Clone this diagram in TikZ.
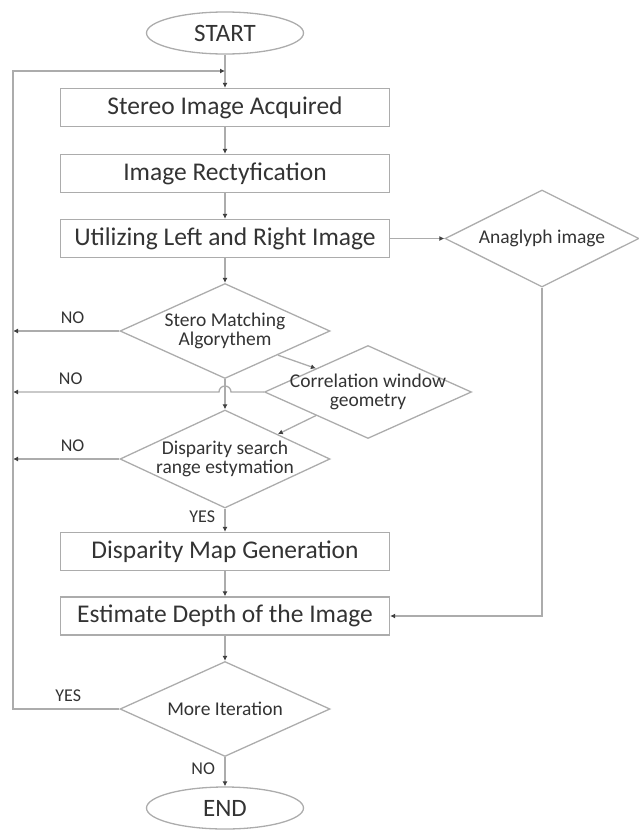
\documentclass[tikz,border=0pt]{standalone}
\usepackage{fontspec}
\setmainfont{Carlito}
\usetikzlibrary{shapes.geometric,arrows.meta}

\begin{document}
\begin{tikzpicture}[x=1pt, y=-1pt, line width=1.3pt,
    terminal/.style={draw=gray!65, ellipse, minimum width=157pt, minimum height=42pt, inner sep=0pt, text=black!80, font=\fontsize{25}{30}\selectfont},
    process/.style={draw=gray!65, rectangle, minimum width=329pt, minimum height=38pt, inner sep=0pt, text=black!80, font=\fontsize{25.5}{30}\selectfont},
    decision/.style={draw=gray!65, diamond, minimum width=210pt, minimum height=95pt, inner sep=0pt, label={[dtext]center:#1}},
    dtext/.style={align=center, text=black!80, font=\fontsize{19.5}{19.5}\selectfont},
    answer/.style={text=black!80, font=\fontsize{18}{20}\selectfont},
    flow/.style={draw=gray!65, -{Latex[length=5pt,width=5pt,black!75]}}]
  \useasboundingbox (0,0) rectangle (638,830);

  \node[terminal] (start) at (225,33) {START};
  \node[process] (acq) at (225,107.5) {Stereo Image Acquired};
  \node[process] (rect) at (225,173.5) {Image Rectyfication};
  \node[process] (util) at (225,238.5) {Utilizing Left and Right Image};
  \node[decision={Anaglyph image}, minimum width=194pt, minimum height=97pt] (ana) at (542,238.5) {};
  \node[decision={Stero Matching\\Algorythem}] (match) at (225,331) {};
  \node[decision={Correlation window\\geometry}, minimum width=207pt, minimum height=93pt] (corr) at (368,392) {};
  \node[decision={Disparity search\\range estymation}, minimum height=98pt] (disp) at (225,459) {};
  \node[process] (map) at (225,551.5) {Disparity Map Generation};
  \node[process] (depth) at (225,616) {Estimate Depth of the Image};
  \node[decision={More Iteration}] (more) at (225,709) {};
  \node[terminal] (end) at (225,808) {END};

  \coordinate (join) at (225,71);
  \coordinate (rail) at (13,71);
  \coordinate (hop) at (231,392);

  % main column
  \draw[flow] (start) -- (acq);
  \draw[flow] (acq) -- (rect);
  \draw[flow] (rect) -- (util);
  \draw[flow] (util) -- (match);
  \draw[flow] (match) -- (disp);
  \draw[flow] (disp) -- node[answer, left=6pt, pos=0.35] {YES} (map);
  \draw[flow] (map) -- (depth);
  \draw[flow] (depth) -- (more);
  \draw[flow] (more) -- node[answer, left=6pt, pos=0.4] {NO} (end);

  % anaglyph branch
  \draw[flow] (util) -- (ana);
  \draw[flow] (ana.south) |- (depth.east);

  % side steps
  \draw[flow] (match.south east) -- (corr.north west);
  \draw[flow] (corr.south west) -- (disp.north east);

  % back to the rail
  \draw[flow] (match.west) -- node[answer, above=3pt, pos=0.44] {NO} (match.west -| rail);
  \draw[flow] (corr.west) -- (hop) arc[start angle=0, end angle=-180, radius=6]
    -- node[answer, above=3pt, pos=0.72] {NO} (corr.west -| rail);
  \draw[flow] (disp.west) -- node[answer, above=3pt, pos=0.44] {NO} (disp.west -| rail);
  \draw[flow] (more.west) -- node[answer, above=3pt, pos=0.48] {YES} (more.west -| rail)
    -- (rail) -- (join);
\end{tikzpicture}
\end{document}
